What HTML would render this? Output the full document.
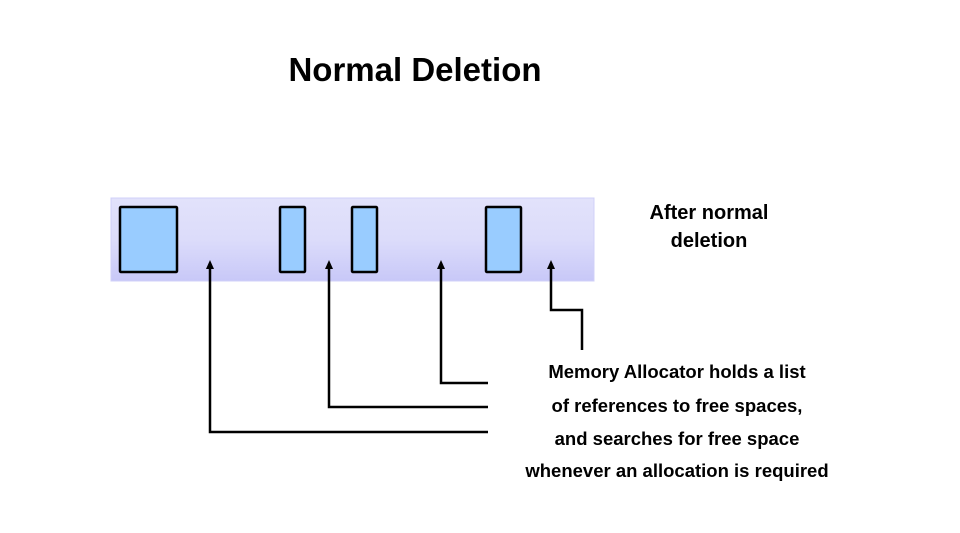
<!DOCTYPE html>
<html><head><meta charset="utf-8"><style>
html,body{margin:0;padding:0;background:#fff;width:960px;height:533px;overflow:hidden}
svg{display:block}
text{font-family:"Liberation Sans",Arial,sans-serif;font-weight:bold;fill:#000}
</style></head><body>
<svg width="960" height="533" viewBox="0 0 960 533">
<defs>
<linearGradient id="g" x1="0" y1="0" x2="0" y2="1">
<stop offset="0" stop-color="#e2e2fb"/><stop offset="0.5" stop-color="#dcdcfa"/><stop offset="1" stop-color="#c8c8f8"/>
</linearGradient>
<marker id="a" markerWidth="8" markerHeight="10" refX="4" refY="1" orient="auto" markerUnits="userSpaceOnUse">
</marker>
</defs>
<text x="415" y="81" font-size="33" text-anchor="middle">Normal Deletion</text>
<rect x="111" y="198" width="483" height="83" fill="url(#g)" stroke="#d0d0f8" stroke-width="1"/>
<g fill="#99ccff" stroke="#000" stroke-width="2.5">
<rect x="120" y="207" width="57" height="65" rx="1"/>
<rect x="280" y="207" width="25" height="65" rx="1"/>
<rect x="352" y="207" width="25" height="65" rx="1"/>
<rect x="486" y="207" width="35" height="65" rx="1"/>
</g>
<g fill="none" stroke="#000" stroke-width="2.5">
<polyline points="488,432 210,432 210,268"/>
<polyline points="488,407 329,407 329,268"/>
<polyline points="488,383 441,383 441,268"/>
<polyline points="582,350 582,310 551,310 551,268"/>
</g>
<g fill="#000">
<polygon points="210,260 206,269 214,269"/>
<polygon points="329,260 325,269 333,269"/>
<polygon points="441,260 437,269 445,269"/>
<polygon points="551,260 547,269 555,269"/>
</g>
<text x="709" y="219" font-size="20" text-anchor="middle">After normal</text>
<text x="709" y="247" font-size="20" text-anchor="middle">deletion</text>
<g font-size="18.5" text-anchor="middle">
<text x="677" y="378">Memory Allocator holds a list</text>
<text x="677" y="412">of references to free spaces,</text>
<text x="677" y="445">and searches for free space</text>
<text x="677" y="477">whenever an allocation is required</text>
</g>
</svg>
</body></html>
